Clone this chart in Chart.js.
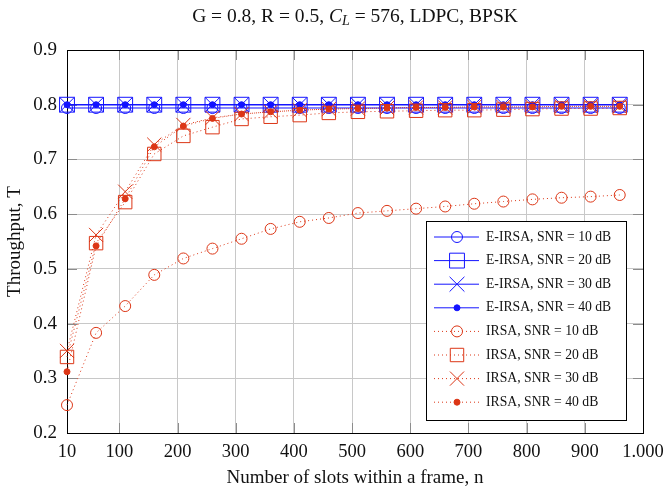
<!DOCTYPE html>
<html>
<head>
<meta charset="utf-8">
<script src="https://cdn.jsdelivr.net/npm/chart.js@4.4.0/dist/chart.umd.min.js"></script>
<style>
  html, body { margin: 0; padding: 0; background: #fff; }
</style>
</head>
<body>
<canvas id="mycanvas" width="665" height="489"></canvas>
<script>
// frame sizes n
var slots = [10, 60, 110, 160, 210, 260, 310, 360, 410, 460, 510, 560, 610, 660, 710, 760, 810, 860, 910, 960];

var eirsa10 = [0.794, 0.794, 0.794, 0.794, 0.794, 0.794, 0.794, 0.794, 0.794, 0.794, 0.794, 0.794, 0.794, 0.794, 0.794, 0.794, 0.794, 0.794, 0.794, 0.794];
var eirsa20 = [0.800, 0.800, 0.800, 0.800, 0.800, 0.800, 0.800, 0.800, 0.800, 0.800, 0.800, 0.800, 0.800, 0.800, 0.800, 0.800, 0.800, 0.800, 0.800, 0.800];
var eirsa30 = [0.800, 0.800, 0.800, 0.800, 0.800, 0.800, 0.800, 0.800, 0.800, 0.800, 0.800, 0.800, 0.800, 0.800, 0.800, 0.800, 0.800, 0.800, 0.800, 0.800];
var eirsa40 = [0.800, 0.800, 0.800, 0.800, 0.800, 0.800, 0.800, 0.800, 0.800, 0.800, 0.800, 0.800, 0.800, 0.800, 0.800, 0.800, 0.800, 0.800, 0.800, 0.800];

var irsa10 = [0.251, 0.383, 0.432, 0.489, 0.519, 0.537, 0.555, 0.573, 0.586, 0.593, 0.602, 0.606, 0.610, 0.614, 0.619, 0.623, 0.627, 0.630, 0.632, 0.635];
var irsa20 = [0.339, 0.547, 0.622, 0.710, 0.743, 0.759, 0.774, 0.778, 0.781, 0.785, 0.787, 0.788, 0.789, 0.790, 0.790, 0.791, 0.792, 0.793, 0.793, 0.794];
var irsa30 = [0.350, 0.562, 0.641, 0.727, 0.763, 0.776, 0.783, 0.787, 0.790, 0.792, 0.793, 0.794, 0.795, 0.795, 0.796, 0.796, 0.796, 0.797, 0.797, 0.797];
var irsa40 = [0.312, 0.542, 0.628, 0.723, 0.761, 0.775, 0.783, 0.787, 0.790, 0.792, 0.793, 0.794, 0.795, 0.795, 0.796, 0.796, 0.796, 0.797, 0.797, 0.797];

var xTicks = [10, 100, 200, 300, 400, 500, 600, 700, 800, 900, 1000];
var xTickLabels = ['10', '100', '200', '300', '400', '500', '600', '700', '800', '900', '1.000'];
var yTicks = [0.2, 0.3, 0.4, 0.5, 0.6, 0.7, 0.8, 0.9];

var legendLabels = [
  'E-IRSA, SNR = 10 dB', 'E-IRSA, SNR = 20 dB', 'E-IRSA, SNR = 30 dB', 'E-IRSA, SNR = 40 dB',
  'IRSA, SNR = 10 dB', 'IRSA, SNR = 20 dB', 'IRSA, SNR = 30 dB', 'IRSA, SNR = 40 dB'
];

var BLUE = 'rgb(20,20,255)';
var RED = 'rgb(220,54,22)';
var FONT = '"Liberation Serif", "DejaVu Serif", serif';

function toXY(vals) {
  var out = [];
  for (var i in vals) out.push({ x: slots[i], y: vals[i] });
  return out;
}

function makeSet(label, vals, color, dotted, style, radius, filled) {
  return {
    label: label,
    data: toXY(vals),
    borderColor: color,
    borderWidth: 1,
    borderDash: dotted ? [1, 3] : [],
    fill: false,
    tension: 0,
    pointStyle: style,
    pointRadius: radius,
    pointBorderWidth: 1,
    pointBorderColor: color,
    pointBackgroundColor: filled ? color : 'rgba(0,0,0,0)',
    order: dotted ? 0 : 1,
    clip: false
  };
}

var sets = [
  makeSet(legendLabels[0], eirsa10, BLUE, false, 'circle', 5.5, false),
  makeSet(legendLabels[1], eirsa20, BLUE, false, 'rect', 10.5, false),
  makeSet(legendLabels[2], eirsa30, BLUE, false, 'crossRot', 10.5, false),
  makeSet(legendLabels[3], eirsa40, BLUE, false, 'circle', 3, true),
  makeSet(legendLabels[4], irsa10, RED, true, 'circle', 5.5, false),
  makeSet(legendLabels[5], irsa20, RED, true, 'rect', 9.5, false),
  makeSet(legendLabels[6], irsa30, RED, true, 'crossRot', 10, false),
  makeSet(legendLabels[7], irsa40, RED, true, 'circle', 3, true)
];

// frame, inner tick marks, title and legend
var decor = {
  id: 'decor',
  beforeDatasetsDraw: function(chart) {
    var ctx = chart.ctx, a = chart.chartArea;
    var xs = chart.scales.x, ys = chart.scales.y;
    ctx.save();
    ctx.strokeStyle = '#8c8c8c';
    ctx.lineWidth = 1;
    ctx.beginPath();
    xTicks.forEach(function(v) {
      var px = Math.round(xs.getPixelForValue(v)) + 0.5;
      ctx.moveTo(px, a.bottom); ctx.lineTo(px, a.bottom - 10);
      ctx.moveTo(px, a.top); ctx.lineTo(px, a.top + 10);
    });
    yTicks.forEach(function(v) {
      var py = Math.round(ys.getPixelForValue(v)) + 0.5;
      ctx.moveTo(a.left, py); ctx.lineTo(a.left + 10, py);
      ctx.moveTo(a.right, py); ctx.lineTo(a.right - 10, py);
    });
    ctx.stroke();
    ctx.strokeStyle = '#000';
    ctx.strokeRect(Math.round(a.left) + 0.5, Math.round(a.top) + 0.5, Math.round(a.right - a.left), Math.round(a.bottom - a.top));
    ctx.restore();
  },
  afterDraw: function(chart) {
    var ctx = chart.ctx, a = chart.chartArea;
    ctx.save();
    // title with italic C_L
    var parts = [
      { t: 'G = 0.8, R = 0.5, ', f: '19.5px ' + FONT, dy: 0 },
      { t: 'C', f: 'italic 19.5px ' + FONT, dy: 0 },
      { t: 'L', f: 'italic 14px ' + FONT, dy: 4 },
      { t: ' = 576, LDPC, BPSK', f: '19.5px ' + FONT, dy: 0 }
    ];
    var w = 0;
    parts.forEach(function(p) { ctx.font = p.f; p.w = ctx.measureText(p.t).width; w += p.w; });
    var x = (a.left + a.right) / 2 - w / 2;
    ctx.fillStyle = '#111';
    ctx.textBaseline = 'middle';
    parts.forEach(function(p) { ctx.font = p.f; ctx.fillText(p.t, x, 17 + p.dy); x += p.w; });

    // legend box
    var bx = a.right - 217, by = a.bottom - 212, bw = 200, bh = 199;
    ctx.fillStyle = '#fff';
    ctx.fillRect(bx, by, bw, bh);
    ctx.strokeStyle = '#000';
    ctx.lineWidth = 1;
    ctx.strokeRect(Math.round(bx) + 0.5, Math.round(by) + 0.5, bw, bh);
    ctx.font = '13.7px ' + FONT;
    ctx.textBaseline = 'middle';
    sets.forEach(function(ds, i) {
      var ly = by + 16 + i * 23.6;
      var x0 = bx + 8, x1 = bx + 53, xm = bx + 31;
      ctx.strokeStyle = ds.borderColor;
      ctx.setLineDash(ds.borderDash);
      ctx.beginPath();
      ctx.moveTo(x0, ly); ctx.lineTo(x1, ly);
      ctx.stroke();
      ctx.setLineDash([]);
      ctx.fillStyle = ds.pointBackgroundColor;
      ctx.strokeStyle = ds.borderColor;
      Chart.helpers.drawPoint(ctx, { pointStyle: ds.pointStyle, radius: ds.pointRadius, borderWidth: 1, rotation: 0 }, xm, ly);
      ctx.fillStyle = '#111';
      ctx.fillText(ds.label, bx + 60, ly);
    });
    ctx.restore();
  }
};

var ctx = document.getElementById('mycanvas');

var LineGraph = new Chart(ctx, {
  type: 'line',
  data: { datasets: sets },
  options: {
    responsive: false,
    animation: false,
    events: [],
    layout: { padding: { top: 50, right: 22, left: 0, bottom: 0 } },
    plugins: {
      legend: { display: false },
      tooltip: { enabled: false }
    },
    scales: {
      x: {
        type: 'linear',
        min: 10,
        max: 1000,
        afterBuildTicks: function(scale) {
          scale.ticks = xTicks.map(function(v) { return { value: v }; });
        },
        afterFit: function(scale) {
          scale.height = 56;
          scale.paddingLeft = 0;
          scale.paddingRight = 0;
        },
        grid: { color: '#c8c8c8', drawTicks: false },
        border: { display: false },
        ticks: {
          autoSkip: false,
          maxRotation: 0,
          padding: 8,
          color: '#111',
          font: { family: FONT, size: 18.5 },
          callback: function(v, i) { return xTickLabels[i]; }
        },
        title: {
          display: true,
          text: 'Number of slots within a frame, n',
          color: '#111',
          font: { family: FONT, size: 19 },
          padding: { top: 4, bottom: 0 }
        }
      },
      y: {
        type: 'linear',
        min: 0.2,
        max: 0.9,
        afterBuildTicks: function(scale) {
          scale.ticks = yTicks.map(function(v) { return { value: v }; });
        },
        afterFit: function(scale) {
          scale.width = 67;
          scale.paddingTop = 0;
          scale.paddingBottom = 0;
        },
        grid: { color: '#c8c8c8', drawTicks: false },
        border: { display: false },
        ticks: {
          padding: 10,
          color: '#111',
          font: { family: FONT, size: 19 },
          callback: function(v) { return v.toFixed(1); }
        },
        title: {
          display: true,
          text: 'Throughput, T',
          color: '#111',
          font: { family: FONT, size: 19 },
          padding: { top: 4, bottom: 0 }
        }
      }
    }
  },
  plugins: [decor]
});
</script>
</body>
</html>
